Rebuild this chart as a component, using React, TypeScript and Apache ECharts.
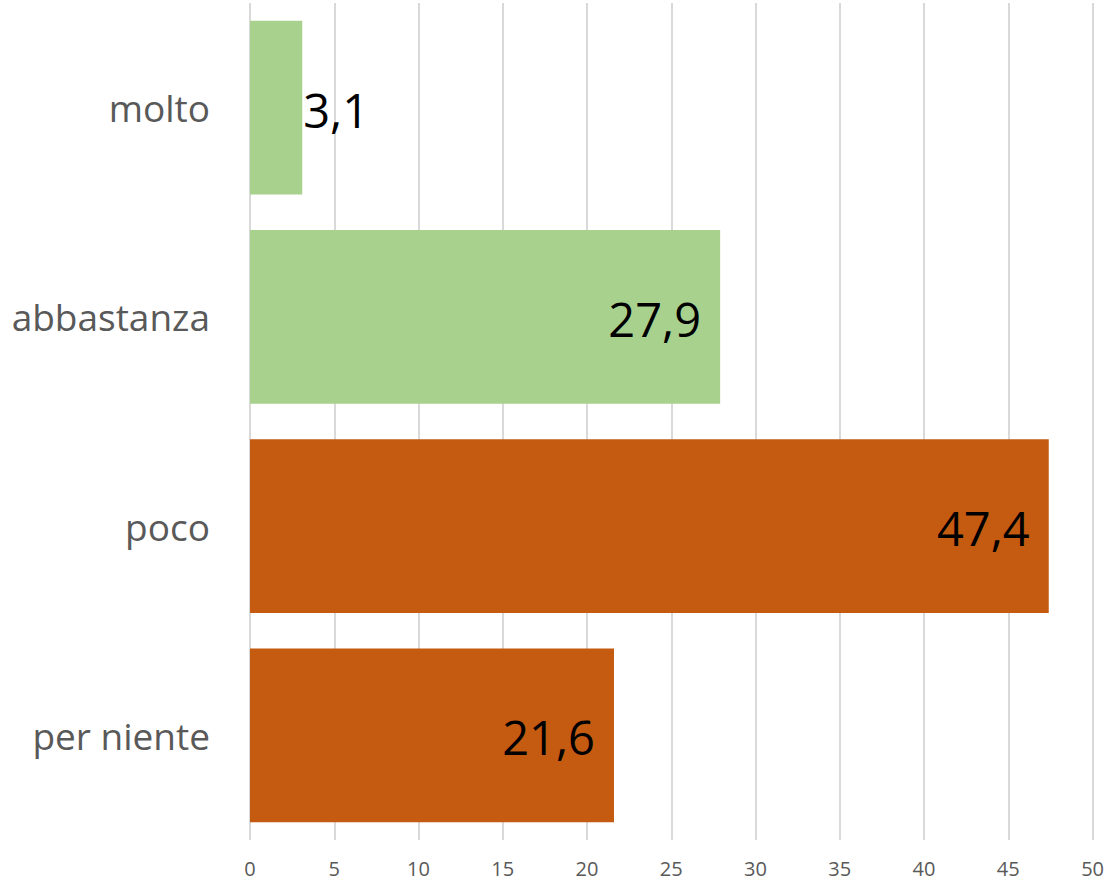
import React, { useEffect, useRef } from "react";
import * as echarts from "echarts";

const categories = ["molto", "abbastanza", "poco", "per niente"];
const values = [3.1, 27.9, 47.4, 21.6];
const barColors = ["#A9D18E", "#A9D18E", "#C55A11", "#C55A11"];
const xTicks = [0, 5, 10, 15, 20, 25, 30, 35, 40, 45, 50];

export default function App() {
  const ref = useRef<HTMLDivElement>(null);
  useEffect(() => {
    const chart = echarts.init(ref.current!, null, { renderer: "svg" });
    chart.setOption({
      animation: false,
      grid: { left: 250, right: 14, top: 3, bottom: 44, containLabel: false },
      xAxis: {
        type: "value",
        min: xTicks[0],
        max: xTicks[xTicks.length - 1],
        interval: 5,
        axisLine: { show: false },
        axisTick: { show: false },
        splitLine: { show: true, lineStyle: { color: "#D9D9D9", width: 2 } },
        axisLabel: {
          color: "#595959",
          fontSize: 20,
          margin: 18,
          fontFamily: "Open Sans",
        },
      },
      yAxis: {
        type: "category",
        data: categories,
        inverse: true,
        axisLine: { show: false },
        axisTick: { show: false },
        axisLabel: {
          color: "#595959",
          fontSize: 37,
          margin: 40,
          fontFamily: "Open Sans",
        },
      },
      series: [
        {
          type: "bar",
          barCategoryGap: "17%",
          data: values.map((v, i) => ({
            value: v,
            itemStyle: { color: barColors[i] },
            label: {
              show: true,
              position: v < 10 ? "right" : "insideRight",
              distance: v < 10 ? 1 : 19,
              formatter: (p: any) => String(p.value).replace(".", ","),
              color: "#000000",
              fontSize: 47,
              fontFamily: "Open Sans",
              offset: [0, 2],
            },
          })),
        },
      ],
    });
    return () => chart.dispose();
  }, []);
  return <div ref={ref} style={{ width: 1107, height: 884, position: "absolute", left: 0, top: 0 }} />;
}
